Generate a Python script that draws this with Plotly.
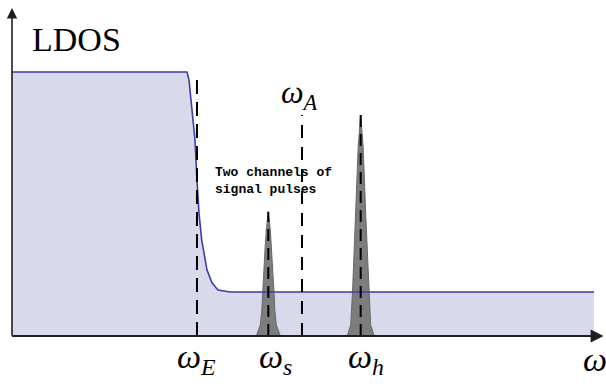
import plotly.graph_objects as go

# LDOS curve (omega in arbitrary units 0-100, LDOS normalised 0-1)
omega_ldos = [0, 29.46, 29.80, 30.25, 30.81, 31.14, 31.48, 31.94, 32.15, 32.83, 33.67, 34.68, 36.70, 97.98]
ldos_vals = [0.810, 0.810, 0.785, 0.702, 0.601, 0.479, 0.377, 0.294, 0.273, 0.202, 0.163, 0.141, 0.135, 0.135]

# signal pulse omega_s
omega_s_pts = [41.13, 41.80, 42.06, 42.19, 42.59, 42.81, 43.15, 43.49, 43.71, 44.11, 44.24, 44.50, 45.17]
pulse_s_vals = [0.0, 0.034, 0.080, 0.135, 0.264, 0.325, 0.381, 0.325, 0.264, 0.135, 0.080, 0.034, 0.0]

# signal pulse omega_h
omega_h_pts = [56.43, 57.02, 57.32, 57.86, 58.28, 58.70, 59.12, 59.54, 60.08, 60.38, 60.97]
pulse_h_vals = [0.0, 0.034, 0.132, 0.377, 0.580, 0.678, 0.580, 0.377, 0.132, 0.034, 0.0]

# marker frequencies and heights of dashed guides
omega_E, omega_E_top = 31.14, 0.810
omega_A, omega_A_top = 48.82, 0.678
omega_s, omega_s_top = 43.15, 0.381
omega_h, omega_h_top = 58.70, 0.678

fig = go.Figure()

# fill under LDOS
fig.add_trace(go.Scatter(x=omega_ldos, y=ldos_vals, mode="lines", fill="tozeroy",
                         fillcolor="rgb(217,217,236)", line=dict(width=0),
                         hoverinfo="skip", showlegend=False))
# pulses
for xs, ys in [(omega_s_pts, pulse_s_vals), (omega_h_pts, pulse_h_vals)]:
    fig.add_trace(go.Scatter(x=xs, y=ys, mode="lines", fill="toself",
                             fillcolor="rgb(125,125,125)",
                             line=dict(color="rgb(105,105,105)", width=1),
                             showlegend=False))
# LDOS line
fig.add_trace(go.Scatter(x=omega_ldos, y=ldos_vals, mode="lines",
                         line=dict(color="rgb(60,60,175)", width=1.6),
                         showlegend=False))
# dashed guides
for xv, top, dash in [(omega_E, omega_E_top, "14px,8px"), (omega_A, omega_A_top, "13px,9px"),
                      (omega_s, omega_s_top, "12px,7px"), (omega_h, omega_h_top, "12px,7px")]:
    fig.add_trace(go.Scatter(x=[xv, xv], y=[0, top], mode="lines",
                             line=dict(color="black", width=2, dash=dash),
                             showlegend=False))

serif = "Liberation Serif, DejaVu Serif, serif"
ann = []
# axes arrows (paper coordinates, tails given in pixels)
ann.append(dict(x=0.996, y=0, xref="paper", yref="paper", ax=-593, ay=0, axref="pixel", ayref="pixel",
                showarrow=True, arrowhead=2, arrowsize=1.3, arrowwidth=2, arrowcolor="rgb(30,30,30)", text=""))
ann.append(dict(x=0, y=1.006, xref="paper", yref="paper", ax=0, ay=329, axref="pixel", ayref="pixel",
                showarrow=True, arrowhead=2, arrowsize=1.3, arrowwidth=1.6, arrowcolor="rgb(30,30,30)", text=""))
# labels
ann.append(dict(x=10.9, y=0.908, xref="x", yref="y", text="LDOS", showarrow=False,
                font=dict(family=serif, size=34, color="black")))
ann.append(dict(x=48.4, y=0.74, xref="x", yref="y", text="<i>ω</i><sub><i>A</i></sub>",
                showarrow=False, font=dict(family=serif, size=32, color="black")))
ann.append(dict(x=33.84, y=0.475, xref="x", yref="y", xanchor="left", align="left",
                text="<b>Two channels of<br>signal pulses</b>", showarrow=False,
                font=dict(family="Liberation Mono, DejaVu Sans Mono, monospace", size=13, color="black")))
for xv, lab in [(31.0, "E"), (44.3, "s"), (59.6, "h")]:
    ann.append(dict(x=xv, y=-0.14, xref="x", yref="paper", text=f"<i>ω</i><sub><i>{lab}</i></sub>",
                    showarrow=False, font=dict(family=serif, size=34, color="black")))
ann.append(dict(x=98.1, y=-0.135, xref="x", yref="paper", text="<i>ω</i>",
                showarrow=False, font=dict(family=serif, size=34, color="black")))

fig.update_layout(
    width=606, height=386,
    margin=dict(l=12, r=0, t=10, b=50),
    paper_bgcolor="white", plot_bgcolor="white",
    xaxis=dict(range=[0, 100], visible=False, fixedrange=True),
    yaxis=dict(range=[0, 1], visible=False, fixedrange=True),
    annotations=ann,
    showlegend=False,
)
fig.write_html("out.html", config={"displayModeBar": False})
